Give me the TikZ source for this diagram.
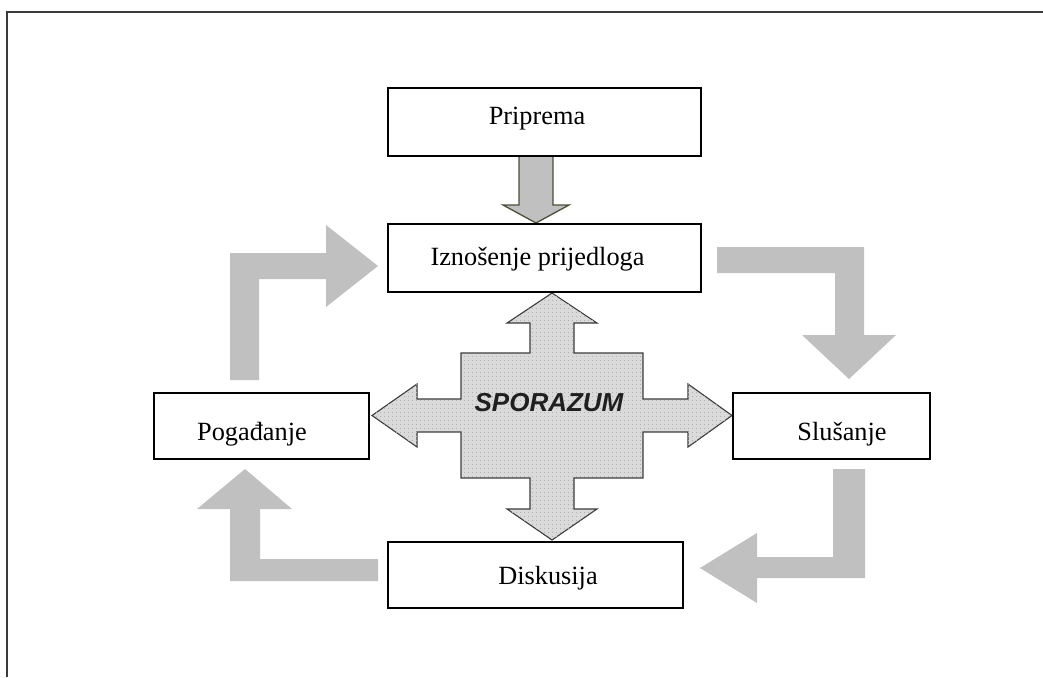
\documentclass[tikz,border=0pt]{standalone}
\usepackage{fontspec}
\setmainfont{Liberation Serif}
\setsansfont{Liberation Sans}
\usetikzlibrary{patterns.meta}
\definecolor{flowgray}{HTML}{C0C0C0}
\definecolor{crossgray}{HTML}{DADADA}
\definecolor{crossdot}{HTML}{B0B0B0}
\definecolor{crossedge}{HTML}{3C3C3C}
\definecolor{downedge}{HTML}{4D4D38}
\definecolor{framecol}{HTML}{3A3A3A}
\tikzdeclarepattern{
  name=crossdots,
  type=uncolored,
  bottom left={(0pt,0pt)},
  top right={(4pt,4pt)},
  tile size={(4pt,4pt)},
  code={\pgfpathrectangle{\pgfqpoint{0pt}{0pt}}{\pgfqpoint{1.2pt}{1.2pt}}\pgfusepath{fill}}
}
\begin{document}
\begin{tikzpicture}[x=1pt,y=-1pt,
  box/.style={draw=black, line width=1.6pt, fill=white, inner sep=0pt},
  lbl/.style={font=\fontsize{26.3}{30}\selectfont, inner sep=0pt},
  flow/.style={fill=flowgray, draw=none},
  cross/.style={fill=crossgray, draw=crossedge, line width=1.1pt, line join=miter},
  crosstex/.style={pattern={crossdots}, pattern color=crossdot},
  downarrow/.style={fill=flowgray, draw=downedge, line width=1.3pt, line join=miter},
  frameline/.style={draw=framecol, line width=2pt}]
\useasboundingbox (0,0) rectangle (1043,677);
% frame
\coordinate (fbl) at (7,677);
\coordinate (ftl) at (7,12);
\coordinate (ftr) at (1043,12);
\draw[frameline] (fbl) -- (ftl) -- (ftr);

% gray cycle arrows
\path[flow] (230,380) -- (230,253) -- (326,253) -- (326,225) -- (378,266) -- (326,307) -- (326,279) -- (259,279) -- (259,380) -- cycle;
\path[flow] (717,247) -- (864,247) -- (864,335) -- (896,335) -- (849,379) -- (802,335) -- (835,335) -- (835,273) -- (717,273) -- cycle;
\path[flow] (833,469) -- (865,469) -- (865,578) -- (757,578) -- (757,603) -- (700,568) -- (757,533) -- (757,557) -- (833,557) -- cycle;
\path[flow] (378,559) -- (378,581) -- (230,581) -- (230,509) -- (197,509) -- (245,469) -- (292,509) -- (260,509) -- (260,559) -- cycle;

% central four-way arrow
\path[cross, postaction={crosstex}] (552,293) -- (597,323) -- (574,323) -- (574,353) -- (643,353) -- (643,399) -- (688,399) -- (688,384) -- (732,415.5) -- (688,447) -- (688,432) -- (643,432) -- (643,478) -- (574,478) -- (574,509) -- (597,509) -- (552,540) -- (507,509) -- (530,509) -- (530,478) -- (461,478) -- (461,432) -- (417,432) -- (417,447) -- (372,415.5) -- (417,384) -- (417,399) -- (461,399) -- (461,353) -- (530,353) -- (530,323) -- (507,323) -- cycle;

% down arrow Priprema -> Iznosenje
\path[downarrow] (519,156) -- (553,156) -- (553,205) -- (569,205) -- (536,223) -- (503,205) -- (519,205) -- cycle;

% boxes
\node[box, minimum width=313pt, minimum height=68pt] (prip) at (544.5,122) {};
\node[box, minimum width=313pt, minimum height=68pt] (izn) at (544.5,258) {};
\node[box, minimum width=215pt, minimum height=66pt] (pog) at (261.5,426) {};
\node[box, minimum width=197pt, minimum height=66pt] (slu) at (831.5,426) {};
\node[box, minimum width=295pt, minimum height=66pt] (disk) at (535.5,575) {};

% labels
\node[lbl] (priptxt) at (537,119) {Priprema};
\node[lbl] (izntxt) at (537.5,259) {Iznošenje prijedloga};
\node[lbl] (pogtxt) at (252,434) {Pogađanje};
\node[lbl] (slutxt) at (842,434) {Slušanje};
\node[lbl] (disktxt) at (548,578) {Diskusija};
\node[lbl, font=\fontsize{26}{30}\selectfont\sffamily\bfseries\itshape, text=black!88] (spor) at (549,403) {SPORAZUM};
\end{tikzpicture}
\end{document}
